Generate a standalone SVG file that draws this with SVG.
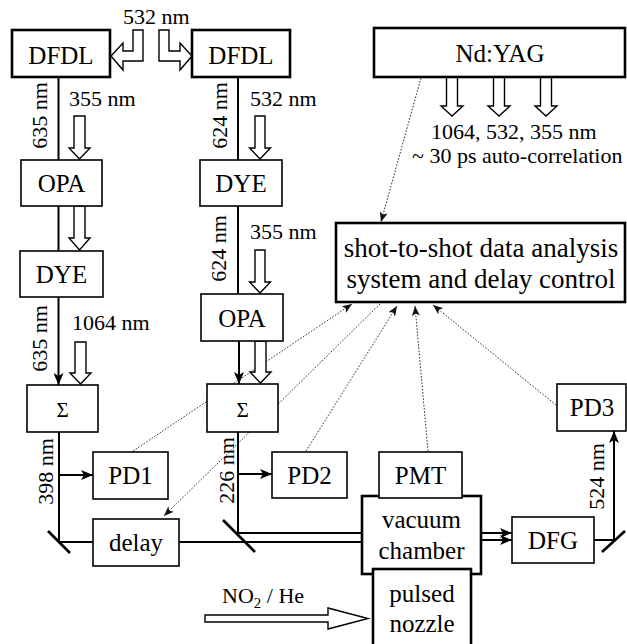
<svg xmlns="http://www.w3.org/2000/svg" width="627" height="644" viewBox="0 0 627 644" font-family="Liberation Serif">
  <style>
    .box { fill: #fff; stroke: #000; stroke-width: 1.6; }
    .thick { fill: #fff; stroke: #000; stroke-width: 2.6; }
    .beam { fill: none; stroke: #000; stroke-width: 2; }
    .mirror { fill: none; stroke: #000; stroke-width: 2.6; }
    .hollow { fill: #fff; stroke: #000; stroke-width: 1.4; stroke-linejoin: miter; }
    .dot { fill: none; stroke: #333; stroke-width: 1; stroke-dasharray: 1.6 1.6; }
  </style>
  <defs>
    <marker id="beamhead" viewBox="0 0 12 10" refX="12" refY="5" markerWidth="12" markerHeight="10" markerUnits="userSpaceOnUse" orient="auto">
      <path d="M0,0 L12,5 L0,10 L3,5 z" fill="#000"/>
    </marker>
    <marker id="dothead" viewBox="0 0 10 8" refX="10" refY="4" markerWidth="10" markerHeight="8" markerUnits="userSpaceOnUse" orient="auto">
      <path d="M0,0 L10,4 L0,8 L2.5,4 z" fill="#111"/>
    </marker>
  </defs>

  <!-- signal / control lines to the analysis system -->
  <g id="control-lines">
    <line class="dot" x1="421" y1="78" x2="381" y2="222" marker-end="url(#dothead)"/>
    <line class="dot" x1="133" y1="451" x2="352" y2="304" marker-end="url(#dothead)"/>
    <line class="dot" x1="380" y1="304" x2="164" y2="516" marker-end="url(#dothead)"/>
    <line class="dot" x1="306" y1="451" x2="397" y2="306" marker-end="url(#dothead)"/>
    <line class="dot" x1="428" y1="451" x2="415" y2="306" marker-end="url(#dothead)"/>
    <line class="dot" x1="556" y1="405" x2="433" y2="305" marker-end="url(#dothead)"/>
  </g>

  <!-- laser beams -->
  <g id="beams">
    <line class="beam" x1="58.5" y1="77" x2="58.5" y2="160"/>
    <line class="beam" x1="238" y1="77" x2="238" y2="160"/>
    <line class="beam" x1="58.5" y1="206" x2="58.5" y2="251"/>
    <line class="beam" x1="58.5" y1="297" x2="58.5" y2="385" marker-end="url(#beamhead)"/>
    <line class="beam" x1="238" y1="206" x2="238" y2="294"/>
    <line class="beam" x1="239" y1="341" x2="239" y2="384" marker-end="url(#beamhead)"/>
    <polyline class="beam" points="59,432 59,542 93,542"/>
    <line class="beam" x1="179" y1="542" x2="362" y2="542"/>
    <line class="beam" x1="59" y1="475" x2="93" y2="475" marker-end="url(#beamhead)"/>
    <polyline class="beam" points="238,432 238,533 362,533"/>
    <line class="beam" x1="238" y1="474" x2="272" y2="474" marker-end="url(#beamhead)"/>
    <line class="beam" x1="481" y1="533" x2="512" y2="533" marker-end="url(#beamhead)"/>
    <line class="beam" x1="481" y1="540" x2="512" y2="540" marker-end="url(#beamhead)"/>
    <polyline class="beam" points="594,540 614,540 614,431" marker-end="url(#beamhead)"/>
    <!-- mirrors -->
    <line class="mirror" x1="48" y1="531" x2="70" y2="553"/>
    <line class="mirror" x1="223" y1="520" x2="255" y2="552"/>
    <line class="mirror" x1="602" y1="552" x2="625" y2="531"/>
  </g>

  <!-- pump beams (open arrows) -->
  <g id="pump-arrows">
    <polygon class="hollow" points="133,30 143,30 143,61 123,61 123,70 111,56 123,43 123,51 133,51"/>
    <polygon class="hollow" points="159,30 169,30 169,51 180,51 180,43 192,56 180,70 180,61 159,61"/>
    <polygon class="hollow" points="74,116 85,116 85,148 90,148 79.5,159 69,148 74,148"/>
    <polygon class="hollow" points="255,116 265,116 265,148 270.5,148 260,159 249.5,148 255,148"/>
    <polygon class="hollow" points="74,206 85,206 85,238 90,238 79.5,250 69,238 74,238"/>
    <polygon class="hollow" points="75,342 86,342 86,373 91,373 80.5,384 70,373 75,373"/>
    <polygon class="hollow" points="255,250 265,250 265,282 270.5,282 260,293 249.5,282 255,282"/>
    <polygon class="hollow" points="255,341 266,341 266,372 271,372 260.5,383 250,372 255,372"/>
    <polygon class="hollow" points="446.5,77 457.5,77 457.5,106 463,106 452,116 441,106 446.5,106"/>
    <polygon class="hollow" points="493.5,77 504.5,77 504.5,106 510,106 499,116 488,106 493.5,106"/>
    <polygon class="hollow" points="540.5,77 551.5,77 551.5,106 557,106 546,116 535,106 540.5,106"/>
    <polygon class="hollow" points="205,615 328,615 328,608 368,618.5 328,629 328,622 205,622"/>
  </g>

  <!-- wavelength labels -->
  <g id="wavelengths">
    <text font-family="Liberation Serif" font-size="22" x="123" y="24">532 nm</text>
    <text font-family="Liberation Serif" font-size="22" x="69" y="106">355 nm</text>
    <text font-family="Liberation Serif" font-size="22" x="250" y="106">532 nm</text>
    <text font-family="Liberation Serif" font-size="22" x="250" y="239">355 nm</text>
    <text font-family="Liberation Serif" font-size="22" x="72" y="330">1064 nm</text>
    <text font-family="Liberation Serif" font-size="22" x="431" y="139">1064, 532, 355 nm</text>
    <text font-family="Liberation Serif" font-size="22" x="412" y="163">~ 30 ps auto-correlation</text>
    <text font-family="Liberation Serif" font-size="22" text-anchor="middle" transform="translate(47,115.5) rotate(-90)">635 nm</text>
    <text font-family="Liberation Serif" font-size="22" text-anchor="middle" transform="translate(227,115.5) rotate(-90)">624 nm</text>
    <text font-family="Liberation Serif" font-size="22" text-anchor="middle" transform="translate(47,338.5) rotate(-90)">635 nm</text>
    <text font-family="Liberation Serif" font-size="22" text-anchor="middle" transform="translate(226,248.5) rotate(-90)">624 nm</text>
    <text font-family="Liberation Serif" font-size="22" text-anchor="middle" transform="translate(53,471.5) rotate(-90)">398 nm</text>
    <text font-family="Liberation Serif" font-size="22" text-anchor="middle" transform="translate(234,470.5) rotate(-90)">226 nm</text>
    <text font-family="Liberation Serif" font-size="22" text-anchor="middle" transform="translate(604,476.5) rotate(-90)">524 nm</text>
    <text font-family="Liberation Serif" font-size="22" x="222" y="603">NO<tspan font-size="15" dy="5">2</tspan><tspan dy="-5"> / He</tspan></text>
  </g>

  <g id="dfdl-1"><rect class="thick" x="12" y="30" width="98" height="47"/><text font-family="Liberation Serif" font-size="25" text-anchor="middle" x="61" y="64">DFDL</text></g>
  <g id="dfdl-2"><rect class="thick" x="192" y="30" width="98" height="47"/><text font-family="Liberation Serif" font-size="25" text-anchor="middle" x="241" y="64">DFDL</text></g>
  <g id="nd-yag"><rect class="thick" x="374" y="28" width="251" height="49"/><text font-family="Liberation Serif" font-size="25" text-anchor="middle" x="500" y="62">Nd:YAG</text></g>
  <g id="opa-1"><rect class="box" x="21" y="160" width="81" height="46"/><text font-family="Liberation Serif" font-size="25" text-anchor="middle" x="61.5" y="192">OPA</text></g>
  <g id="dye-2"><rect class="box" x="200" y="160" width="82" height="46"/><text font-family="Liberation Serif" font-size="25" text-anchor="middle" x="241" y="192">DYE</text></g>
  <g id="dye-1"><rect class="box" x="20" y="251" width="83" height="46"/><text font-family="Liberation Serif" font-size="25" text-anchor="middle" x="61.5" y="283">DYE</text></g>
  <g id="opa-2"><rect class="box" x="201" y="294" width="82" height="47"/><text font-family="Liberation Serif" font-size="25" text-anchor="middle" x="242" y="327">OPA</text></g>
  <g id="analysis"><rect class="thick" x="336" y="223" width="289" height="79"/><text font-family="Liberation Serif" font-size="27" text-anchor="middle" x="481" y="257">shot-to-shot data analysis</text><text font-family="Liberation Serif" font-size="27" text-anchor="middle" x="481" y="288">system and delay control</text></g>
  <g id="sum-1"><rect class="box" x="27" y="385" width="71" height="47"/><text font-family="Liberation Serif" font-size="21" text-anchor="middle" x="62.5" y="417">Σ</text></g>
  <g id="sum-2"><rect class="box" x="207" y="384" width="71" height="48"/><text font-family="Liberation Serif" font-size="21" text-anchor="middle" x="242.5" y="417">Σ</text></g>
  <g id="pd3"><rect class="box" x="557" y="384" width="69" height="47"/><text font-family="Liberation Serif" font-size="25" text-anchor="middle" x="592" y="416">PD3</text></g>
  <g id="pd1"><rect class="box" x="93" y="452" width="75" height="47"/><text font-family="Liberation Serif" font-size="25" text-anchor="middle" x="130.5" y="484">PD1</text></g>
  <g id="pd2"><rect class="box" x="272" y="452" width="75" height="46"/><text font-family="Liberation Serif" font-size="25" text-anchor="middle" x="309.5" y="484">PD2</text></g>
  <g id="delay"><rect class="box" x="93" y="519" width="86" height="47"/><text font-family="Liberation Serif" font-size="25" text-anchor="middle" x="136" y="551">delay</text></g>
  <g id="vacuum-chamber"><rect class="thick" x="362" y="496" width="119" height="78"/><text font-family="Liberation Serif" font-size="25" text-anchor="middle" x="421.5" y="528">vacuum</text><text font-family="Liberation Serif" font-size="25" text-anchor="middle" x="421.5" y="559">chamber</text></g>
  <g id="pmt"><rect class="box" x="379" y="452" width="83" height="46"/><text font-family="Liberation Serif" font-size="25" text-anchor="middle" x="420.5" y="484">PMT</text></g>
  <g id="pulsed-nozzle"><rect class="thick" x="373" y="569" width="98" height="90"/><text font-family="Liberation Serif" font-size="25" text-anchor="middle" x="422" y="602">pulsed</text><text font-family="Liberation Serif" font-size="25" text-anchor="middle" x="422" y="632">nozzle</text></g>
  <g id="dfg"><rect class="box" x="512" y="517" width="82" height="46"/><text font-family="Liberation Serif" font-size="25" text-anchor="middle" x="553" y="549">DFG</text></g>
</svg>
